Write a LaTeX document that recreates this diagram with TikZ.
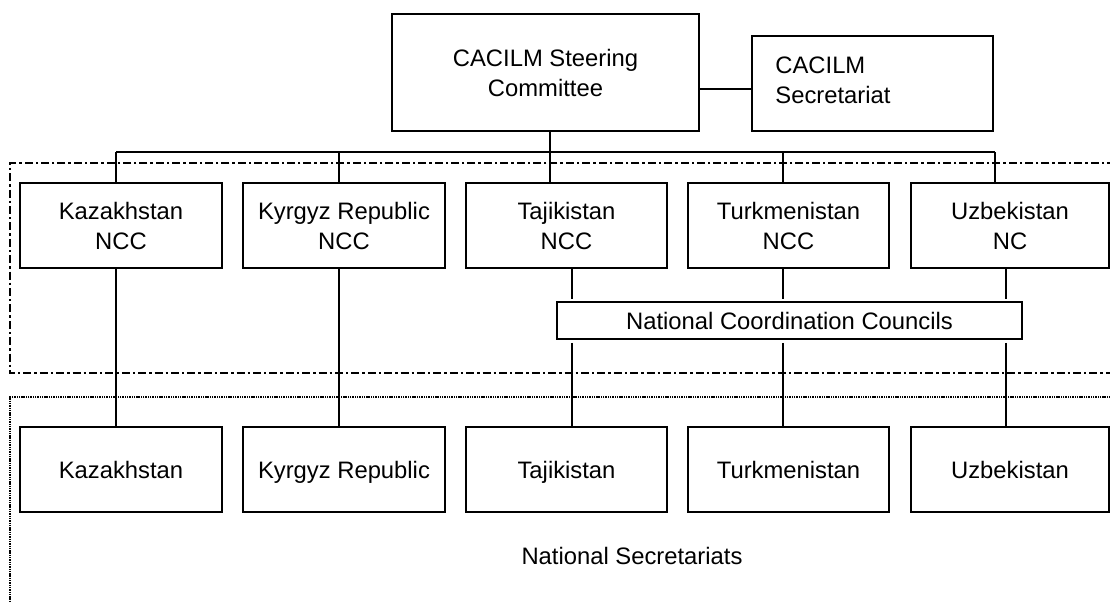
\documentclass[tikz,border=0pt]{standalone}
\usepackage{fontspec}
\setmainfont{Liberation Sans}
\begin{document}
\begin{tikzpicture}[x=0.5pt,y=-0.5pt,
  box/.style={draw, line width=0.6pt, inner sep=0pt, align=center,
    font=\fontsize{11.9}{15}\selectfont},
  one/.style={text height=8.6pt, text depth=0pt},
  conn/.style={line width=0.6pt},
  dashdotframe/.style={line width=1.4pt, dash pattern=on 4pt off 1.5pt on 1.2pt off 1.5pt},
  dotframe/.style={line width=1.4pt, dash pattern=on 0.7pt off 0.45pt},
  lbl/.style={font=\fontsize{11.9}{15}\selectfont, inner sep=0pt}]
\useasboundingbox (0,0) rectangle (1110,601);
\clip (0,0) rectangle (1110,601);

% frames
\draw[dashdotframe] (1115,163) -- (10,163) -- (10,373) -- (1115,373);
\draw[dotframe] (1115,397) -- (10,397) -- (10,610);

% top level
\node[box, minimum width=153.5pt, minimum height=58.5pt] (sc) at (545.5,72.5) {CACILM Steering\\Committee};
\node[box, minimum width=120.5pt, minimum height=47.5pt] (sec) at (872.5,83.5) {};
\node[lbl, align=left, anchor=west] (sectxt) at (775,80) {CACILM\\Secretariat};

% row 1
\node[box, minimum width=101pt, minimum height=42.5pt] (kz1) at (121,225.5) {Kazakhstan\\NCC};
\node[box, minimum width=101pt, minimum height=42.5pt] (kg1) at (344,225.5) {Kyrgyz Republic\\NCC};
\node[box, minimum width=100.5pt, minimum height=42.5pt] (tj1) at (566.5,225.5) {Tajikistan\\NCC};
\node[box, minimum width=100.5pt, minimum height=42.5pt] (tm1) at (788.5,225.5) {Turkmenistan\\NCC};
\node[box, minimum width=99pt, minimum height=42.5pt] (uz1) at (1010,225.5) {Uzbekistan\\NC};

% NCC bar
\node[box, one, minimum width=232.5pt, minimum height=18.5pt, line width=0.8pt] (ncc) at (789.5,320.5) {National Coordination Councils};

% row 2
\node[box, one, minimum width=101pt, minimum height=42.5pt] (kz2) at (121,469.5) {Kazakhstan};
\node[box, one, minimum width=101pt, minimum height=42.5pt] (kg2) at (344,469.5) {Kyrgyz Republic};
\node[box, one, minimum width=100.5pt, minimum height=42.5pt] (tj2) at (566.5,469.5) {Tajikistan};
\node[box, one, minimum width=100.5pt, minimum height=42.5pt] (tm2) at (788.5,469.5) {Turkmenistan};
\node[box, one, minimum width=99pt, minimum height=42.5pt] (uz2) at (1010,469.5) {Uzbekistan};

\node[lbl, one] (nsec) at (632,556) {National Secretariats};

% bus coordinates
\coordinate (b1) at (116,152);
\coordinate (b2) at (339,152);
\coordinate (b3) at (550,152);
\coordinate (b4) at (783,152);
\coordinate (b5) at (995,152);
\coordinate (c3) at (572,0);
\coordinate (c4) at (783,0);
\coordinate (c5) at (1006,0);

% connectors
\draw[conn] (sc.east |- 0,89) -- (sec.west |- 0,89);
\draw[conn] (sc.south -| b3) -- (b3);
\draw[conn] (b1) -- (b5);
\draw[conn] (b1) -- (b1 |- kz1.north);
\draw[conn] (b2) -- (b2 |- kg1.north);
\draw[conn] (b3) -- (b3 |- tj1.north);
\draw[conn] (b4) -- (b4 |- tm1.north);
\draw[conn] (b5) -- (b5 |- uz1.north);

\draw[conn] (kz1.south -| b1) -- (kz2.north -| b1);
\draw[conn] (kg1.south -| b2) -- (kg2.north -| b2);
\draw[conn] (tj1.south -| c3) -- ([yshift=1pt]ncc.north -| c3);
\draw[conn] (tm1.south -| c4) -- ([yshift=1pt]ncc.north -| c4);
\draw[conn] (uz1.south -| c5) -- ([yshift=1pt]ncc.north -| c5);
\draw[conn] ([yshift=-1.5pt]ncc.south -| c3) -- (tj2.north -| c3);
\draw[conn] ([yshift=-1.5pt]ncc.south -| c4) -- (tm2.north -| c4);
\draw[conn] ([yshift=-1.5pt]ncc.south -| c5) -- (uz2.north -| c5);
\end{tikzpicture}
\end{document}
